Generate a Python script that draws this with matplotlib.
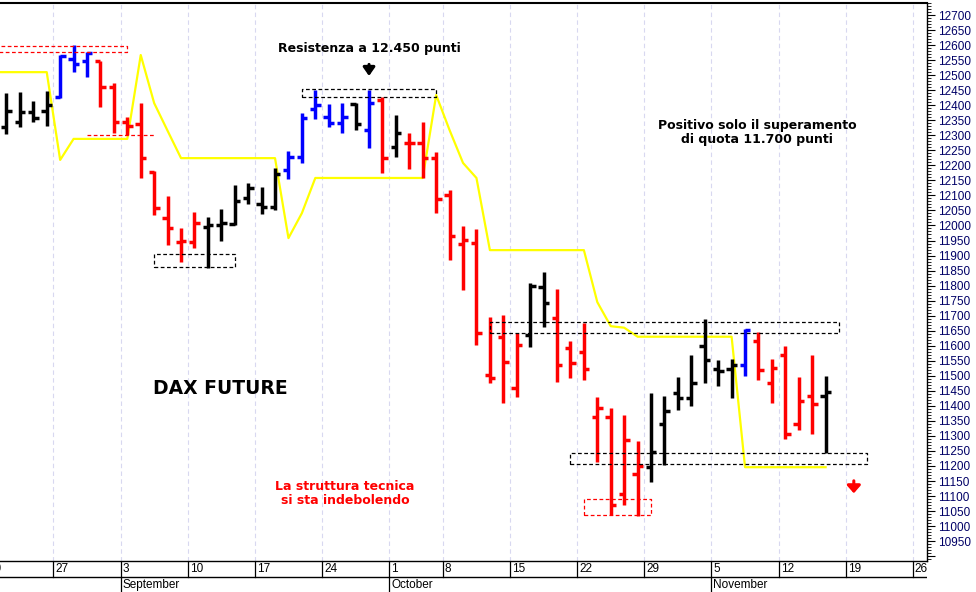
import matplotlib
matplotlib.use("Agg")
import matplotlib.pyplot as plt
import numpy as np

# trading-day index (0 = Aug 20, holiday Oct 3 skipped)
day = np.arange(1, 63)
opens = [12327, 12344, 12377, 12381, 12427, 12554, 12547, 12547, 12461, 12344,
         12337, 12178, 12025, 11945, 11945, 11995, 12001, 12005, 12091, 12071,
         12061, 12184, 12228, 12387, 12361, 12341, 12404, 12317, 12417, 12261,
         12274, 12274, 12224, 12101, 11938, 11942, 11502, 11629, 11459, 11635,
         11795, 11692, 11592, 11579, 11363, 11363, 11106, 11173, 11196, 11339,
         11442, 11426, 11599, 11522, 11522, 11536, 11615, 11476, 11569, 11339,
         11433, 11433]
highs = [12441, 12444, 12414, 12447, 12567, 12600, 12577, 12547, 12474, 12361,
         12407, 12181, 12098, 11991, 12045, 12028, 12055, 12135, 12141, 12128,
         12191, 12248, 12374, 12451, 12404, 12407, 12407, 12451, 12427, 12367,
         12308, 12344, 12244, 12118, 11998, 11988, 11695, 11702, 11642, 11808,
         11845, 11788, 11616, 11675, 11429, 11393, 11369, 11283, 11442, 11433,
         11496, 11569, 11689, 11552, 11556, 11655, 11645, 11556, 11599, 11496,
         11569, 11499]
lows = [12304, 12327, 12344, 12331, 12424, 12510, 12494, 12394, 12308, 12301,
        12158, 12035, 11935, 11878, 11925, 11858, 11948, 12001, 12071, 12038,
        12051, 12154, 12208, 12354, 12327, 12308, 12317, 12258, 12174, 12228,
        12188, 12158, 12041, 11885, 11785, 11602, 11476, 11409, 11429, 11596,
        11662, 11479, 11492, 11486, 11213, 11037, 11070, 11033, 11146, 11203,
        11386, 11399, 11476, 11466, 11426, 11499, 11486, 11409, 11289, 11319,
        11306, 11243]
closes = [12381, 12377, 12357, 12401, 12564, 12537, 12574, 12461, 12344, 12331,
          12224, 12058, 11991, 11950, 12008, 12001, 12008, 12081, 12125, 12061,
          12171, 12228, 12357, 12401, 12341, 12361, 12337, 12407, 12224, 12308,
          12274, 12224, 12088, 11965, 11952, 11642, 11492, 11546, 11602, 11798,
          11742, 11536, 11542, 11522, 11393, 11070, 11286, 11200, 11246, 11383,
          11426, 11476, 11552, 11516, 11536, 11652, 11519, 11526, 11306, 11416,
          11406, 11446]
# k = black, b = blue, r = red
bar_colors = ("kkkkbbbrrrrrrrrkkkkkkbbbbbkbrkrrrrrrrrrkkrrrrrrrkkkkkkkbrrrrrk")

stop_day = [0, 4, 5, 6, 10, 11, 12, 13, 14, 21, 22, 23, 24, 32, 33, 34, 35, 36,
            37, 44, 45, 46, 47, 48, 55, 56, 62]
stop_val = [12510, 12510, 12218, 12288, 12288, 12567, 12407, 12315, 12224, 12224,
            11958, 12041, 12158, 12158, 12434, 12317, 12208, 12158, 11918, 11918,
            11745, 11665, 11660, 11630, 11630, 11196, 11196]

week_days = [0, 5, 10, 15, 20, 25, 30, 34, 39, 44, 49, 54, 59, 64, 69]
week_labels = ["20", "27", "3", "10", "17", "24", "1", "8", "15", "22", "29",
               "5", "12", "19", "26"]
month_days = [10, 30, 54]
month_labels = ["September", "October", "November"]

XMIN, XMAX = 0.52, 69.55
W, H = 976, 592
fig = plt.figure(figsize=(W / 100, H / 100), dpi=100)
ax = fig.add_axes([0, 1 - 561 / H, 927 / W, 558 / H])
band = fig.add_axes([0, 0, 927 / W, 31 / H], sharex=ax)

for x in week_days:
    ax.axvline(x - 0.5, color="#d8d8f0", ls=(0, (4, 3)), lw=0.8, zorder=0)

ax.plot(stop_day, stop_val, color="#ffff00", lw=1.6, zorder=2)

tick = 0.4
for d, o, h, l, c, col in zip(day, opens, highs, lows, closes, bar_colors):
    col = {"k": "black", "b": "#0000ff", "r": "#ff0000"}[col]
    ax.plot([d, d], [l, h], color=col, lw=2.5, solid_capstyle="butt", zorder=3)
    ax.plot([d - tick, d], [o, o], color=col, lw=2.5, solid_capstyle="butt", zorder=3)
    ax.plot([d, d + tick], [c, c], color=col, lw=2.5, solid_capstyle="butt", zorder=3)


def box(x0, x1, y0, y1, col):
    ax.plot([x0, x1, x1, x0, x0], [y0, y0, y1, y1, y0], color=col, lw=0.9,
            ls=(0, (3, 2)), zorder=4)


box(-1, 10, 12577, 12597, "#ff0000")
ax.plot([7, 12], [12301, 12301], color="#ff0000", lw=0.9, ls=(0, (3, 2)), zorder=4)
box(12, 18, 11862, 11905, "black")
box(23, 33, 12427, 12454, "black")
box(37, 63, 11642, 11679, "black")
box(43, 65.1, 11206, 11243, "black")
box(44, 49, 11037, 11090, "#ff0000")

ax.text(28, 12590, "Resistenza a 12.450 punti", ha="center", va="center",
        fontsize=9, fontweight="bold")
ax.annotate("", xy=(28, 12488), xytext=(28, 12545),
            arrowprops=dict(arrowstyle="-|>,head_width=0.35,head_length=0.5", lw=2.2, color="black"))
ax.text(56.9, 12308, "Positivo solo il superamento\ndi quota 11.700 punti",
        ha="center", va="center", fontsize=9, fontweight="bold", linespacing=1.1)
ax.text(16.9, 11459, "DAX FUTURE", ha="center", va="center", fontsize=13.5,
        fontweight="bold")
ax.text(26.2, 11110, "La struttura tecnica\nsi sta indebolendo", ha="center",
        va="center", fontsize=9, fontweight="bold", color="#ff0000", linespacing=1.1)
ax.annotate("", xy=(64.1, 11100), xytext=(64.1, 11160),
            arrowprops=dict(arrowstyle="-|>,head_width=0.4,head_length=0.45", lw=2.2, color="#ff0000"))

ax.set_xlim(XMIN, XMAX)
ax.set_ylim(10884, 12740)
ax.yaxis.tick_right()
ax.set_yticks(np.arange(10900, 12701, 50))
ax.set_yticklabels([str(v) if v >= 10950 else "" for v in range(10900, 12701, 50)],
                   family="Liberation Sans")
ax.set_yticks(np.arange(10890, 12741, 10), minor=True)
ax.tick_params(axis="y", which="major", length=6, width=0.8, colors="black",
               labelcolor="#000066", labelsize=8.5, pad=2)
ax.tick_params(axis="y", which="minor", length=3, width=0.6)
ax.tick_params(axis="x", bottom=False, labelbottom=False)
ax.spines["left"].set_visible(False)
ax.spines["top"].set_linewidth(1.5)
for s in ["right", "bottom"]:
    ax.spines[s].set_linewidth(1.0)

# date band under the chart
band.set_ylim(0, 31)
band.axis("off")
band.axhline(15, color="black", lw=1.0)
for x, lab in zip(week_days, week_labels):
    band.plot([x - 0.5, x - 0.5], [15, 31], color="black", lw=0.9)
    band.text(x - 0.35, 23, lab, ha="left", va="center", fontsize=8.5,
              family="Liberation Sans")
for x, lab in zip(month_days, month_labels):
    band.plot([x - 0.5, x - 0.5], [0, 15], color="black", lw=0.9)
    band.text(x - 0.35, 7, lab, ha="left", va="center", fontsize=8.5,
              family="Liberation Sans")

fig.savefig("out.png", dpi=100)
